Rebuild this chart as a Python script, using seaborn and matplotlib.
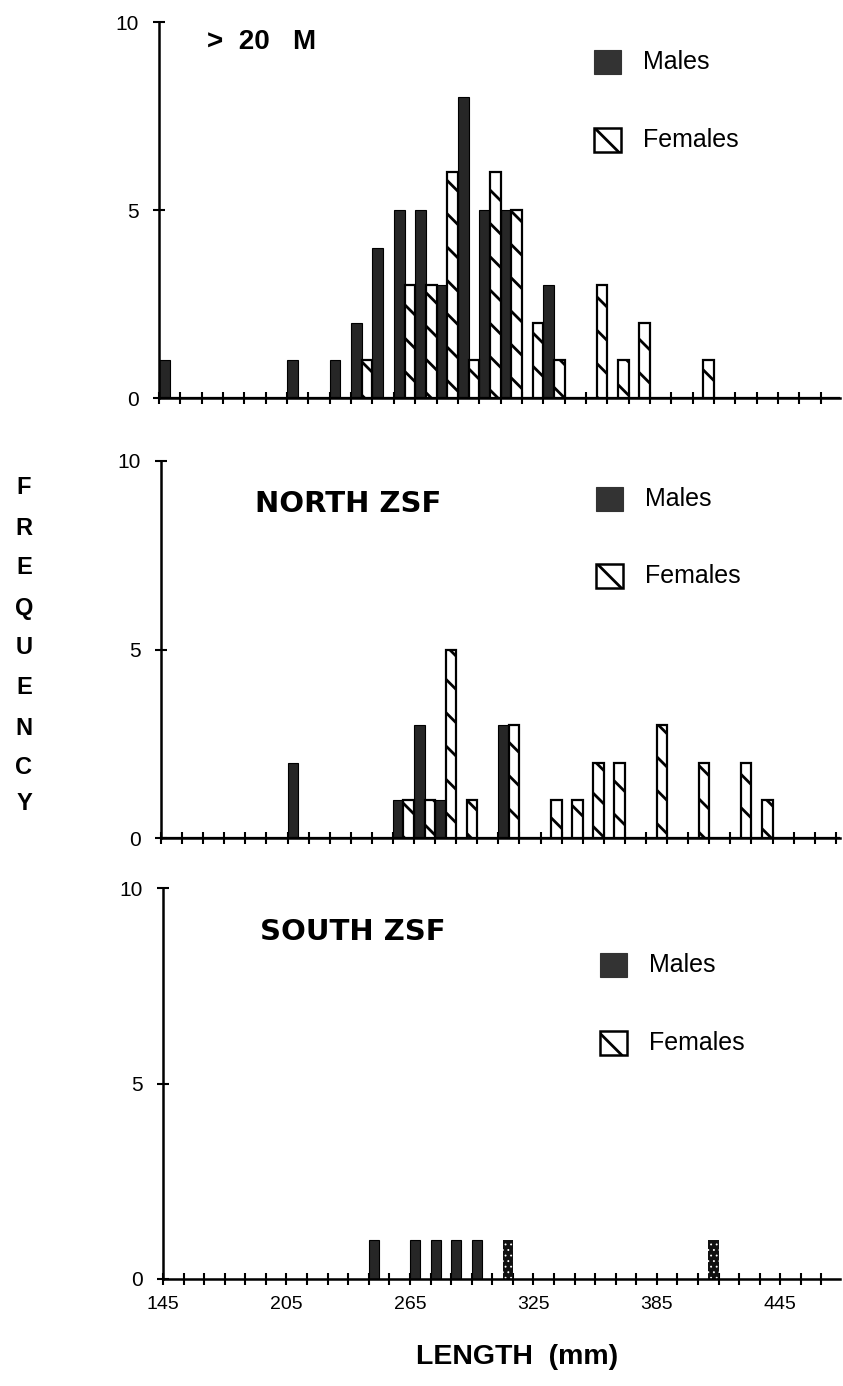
import numpy as np
import seaborn as sns
import matplotlib.pyplot as plt
from matplotlib.patches import Rectangle

# lengths are the 10 mm class starts; counts
deep_male_len = [145, 205, 225, 235, 245, 255, 265, 275, 285, 295, 305, 325]
deep_male_n = [1, 1, 1, 2, 4, 5, 5, 3, 8, 5, 5, 3]
deep_female_len = [235, 255, 265, 275, 285, 295, 305, 315, 325, 345, 355, 365, 395]
deep_female_n = [1, 3, 3, 6, 1, 6, 5, 2, 1, 3, 1, 2, 1]

north_male_len = [205, 255, 265, 275, 305]
north_male_n = [2, 1, 3, 1, 3]
north_female_len = [255, 265, 275, 285, 305, 325, 335, 345, 355, 375, 395, 415, 425]
north_female_n = [1, 1, 5, 1, 3, 1, 1, 2, 2, 3, 2, 2, 1]

south_male_len = [245, 265, 275, 285, 295]
south_male_n = [1, 1, 1, 1, 1]
south_female_len = [305, 405]
south_female_n = [1, 1]

panel_titles = [">  20   M", "NORTH ZSF", "SOUTH ZSF"]
x_ticklabels = [145, 205, 265, 325, 385, 445]
y_ticks = [0, 5, 10]

sns.set_style("ticks")
plt.rcParams['font.family'] = ['Liberation Sans', 'DejaVu Sans']
plt.rcParams['hatch.linewidth'] = 2.0
plt.rcParams['text.color'] = 'black'
plt.rcParams['xtick.color'] = 'black'
plt.rcParams['ytick.color'] = 'black'

W, H = 843, 1386
fig = plt.figure(figsize=(W / 100, H / 100), dpi=100)
fig.patch.set_facecolor("white")

MALE = "#262626"


def fx(x):
    return x / W


def fy(y):
    return 1 - y / H


def add_axes(left, right, top, bottom):
    return fig.add_axes([fx(left), fy(bottom), fx(right) - fx(left), (bottom - top) / H])


# pixel boxes of the three panels (left, right, top, bottom)
boxes = [(159, 840, 22, 398), (161, 840, 461, 838), (163, 840, 888, 1279)]
xmax = [464, 467, 474]
data = [
    (deep_male_len, deep_male_n, deep_female_len, deep_female_n),
    (north_male_len, north_male_n, north_female_len, north_female_n),
    (south_male_len, south_male_n, south_female_len, south_female_n),
]

axes = []
for i, (box, (ml, mn, fl, fn)) in enumerate(zip(boxes, data)):
    ax = add_axes(*box)
    axes.append(ax)
    # males fill the left half of each class, females the right half
    sns.histplot(x=np.array(ml) + 2.5, weights=mn, binwidth=5, binrange=(145, 475),
                 color=MALE, alpha=1, edgecolor="black", linewidth=0.8, ax=ax)
    n0 = len(ax.patches)
    if i < 2:
        sns.histplot(x=np.array(fl) + 7.5, weights=fn, binwidth=5, binrange=(145, 475),
                     color="white", alpha=1, edgecolor="black", linewidth=1.6, ax=ax)
        for p in ax.patches[n0:]:
            p.set_hatch("\\")
    else:
        # in this panel the female bars print dark with a row of white dots
        with plt.rc_context({'hatch.linewidth': 0.6}):
            sns.histplot(x=np.array(fl) + 7.5, weights=fn, binwidth=5, binrange=(145, 475),
                         color="#111111", alpha=1, edgecolor="white", linewidth=0, ax=ax)
            for p in ax.patches[n0:]:
                p.set_hatch("...")
                if hasattr(p, "set_hatch_linewidth"):
                    p.set_hatch_linewidth(0.6)

    ax.set_xlim(145, xmax[i])
    ax.set_ylim(0, 10)
    ax.set_xlabel("")
    ax.set_ylabel("")
    ticks = np.arange(145, xmax[i], 10)
    ax.set_xticks(ticks)
    if i == 2:
        ax.set_xticklabels([str(t) if t in x_ticklabels else "" for t in ticks])
    else:
        ax.set_xticklabels([])
    ax.set_yticks(y_ticks)
    ax.set_yticklabels([str(t) for t in y_ticks])
    ax.tick_params(direction="inout", length=9, width=1.5, colors="black")
    ax.tick_params(axis="y", pad=10, labelsize=15)
    ax.tick_params(axis="x", pad=8, labelsize=14)
    sns.despine(ax=ax)
    for s in ["left", "bottom"]:
        ax.spines[s].set_linewidth(1.8)
        ax.spines[s].set_color("black")
    ax.set_facecolor("white")

# panel titles
fig.text(fx(207), fy(42), panel_titles[0], fontsize=20, fontweight="bold", ha="left", va="center")
fig.text(fx(255), fy(504), panel_titles[1], fontsize=21, fontweight="bold", ha="left", va="center",
         family="DejaVu Sans")
fig.text(fx(260), fy(932), panel_titles[2], fontsize=21, fontweight="bold", ha="left", va="center",
         family="DejaVu Sans")

# legends
leg_pos = [(594, 62, 140), (596, 499, 576), (600, 965, 1043)]
for x, ym, yf in leg_pos:
    fig.patches.append(Rectangle((fx(x), fy(ym + 12)), 27 / W, 24 / H, transform=fig.transFigure,
                                 facecolor="#333333", edgecolor="#333333", lw=0.8))
    fig.patches.append(Rectangle((fx(x), fy(yf + 12)), 27 / W, 24 / H, transform=fig.transFigure,
                                 facecolor="white", edgecolor="black", lw=1.8, hatch="\\"))
    fig.text(fx(x + 49), fy(ym), "Males", fontsize=18, ha="left", va="center")
    fig.text(fx(x + 49), fy(yf), "Females", fontsize=18, ha="left", va="center")

# stacked y label
for ch, y in zip("FREQUENCY", [488, 529, 568, 608, 648, 687, 728, 767, 803]):
    fig.text(fx(24), fy(y), ch, fontsize=17, fontweight="bold", ha="center", va="center")

fig.text(fx(517), fy(1357), "LENGTH  (mm)", fontsize=20.5, fontweight="bold", ha="center", va="center")

fig.savefig("out.png", dpi=100, facecolor="white")
